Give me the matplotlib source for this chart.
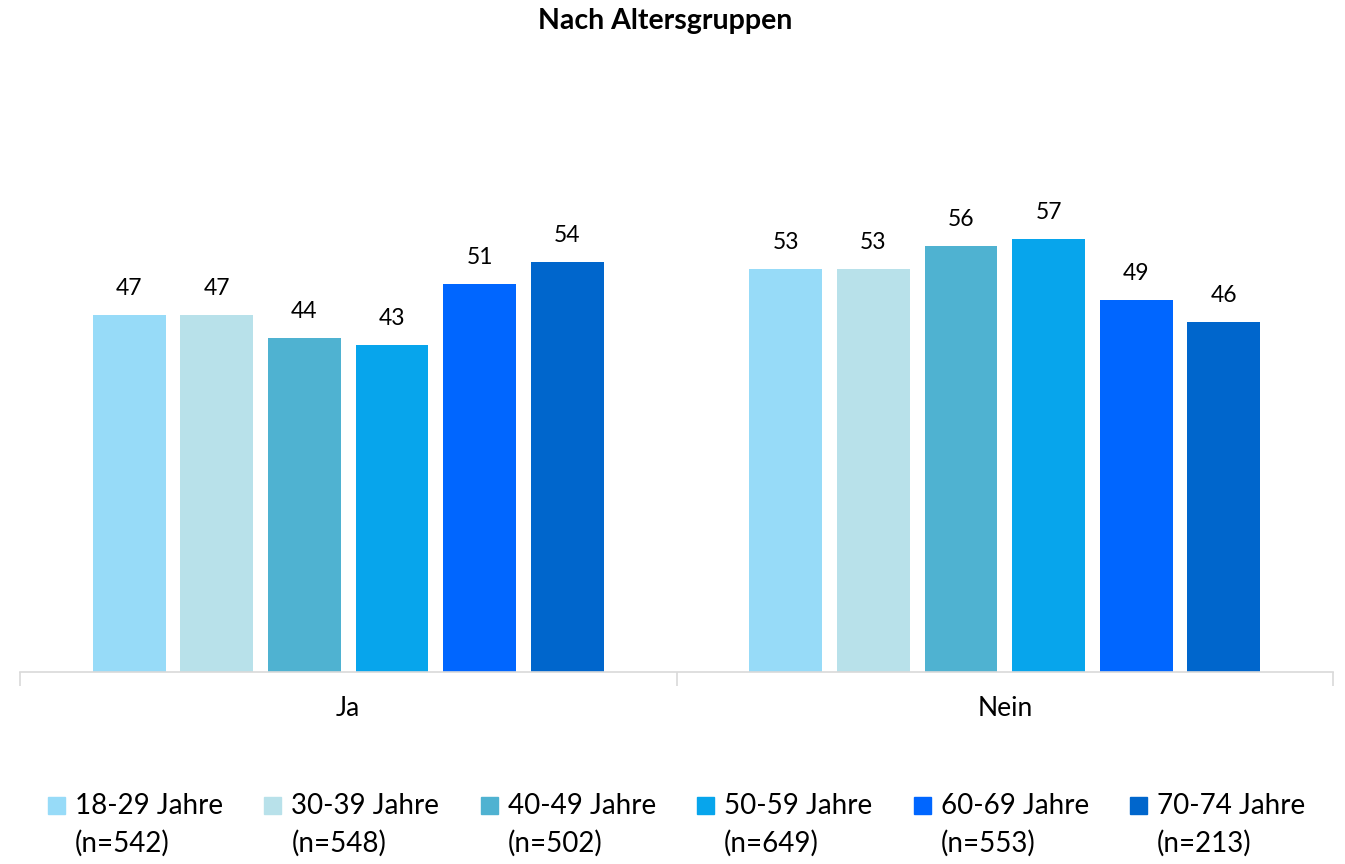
import matplotlib.pyplot as plt
from matplotlib.patches import Rectangle
import numpy as np

plt.rcParams['font.family'] = ['Lato', 'DejaVu Sans']

categories = ['Ja', 'Nein']
groups = ['18-29 Jahre\n(n=542)', '30-39 Jahre\n(n=548)', '40-49 Jahre\n(n=502)',
          '50-59 Jahre\n(n=649)', '60-69 Jahre\n(n=553)', '70-74 Jahre\n(n=213)']
ja_values = [47, 47, 44, 43, 51, 54]
nein_values = [53, 53, 56, 57, 49, 46]
colors = ['#97DBF8', '#B8E1EA', '#4FB2D1', '#07A5EC', '#0066FF', '#0066CC']

fig = plt.figure(figsize=(13.45, 8.64), dpi=100)
ax = fig.add_axes([20 / 1345, 1 - 672 / 864, 1313 / 1345, 456 / 864])

x = np.arange(len(categories))
step = 0.1334
width = 0.111
for i, g in enumerate(groups):
    vals = [ja_values[i], nein_values[i]]
    pos = x + (i - 2.5) * step
    bars = ax.bar(pos, vals, width=width, color=colors[i], zorder=2)
    for b, v in zip(bars, vals):
        ax.text(b.get_x() + b.get_width() / 2, v + 3.5, str(v), ha='center', va='center',
                fontsize=16.5, color='#000000', clip_on=False)

ax.set_xlim(-0.5, 1.5)
ax.set_ylim(0, 60)
for s in ['top', 'right', 'left']:
    ax.spines[s].set_visible(False)
ax.spines['bottom'].set_color('#d9d9d9')
ax.spines['bottom'].set_linewidth(1.2)
ax.set_yticks([])
ax.set_xticks([-0.5, 0.5, 1.5])
ax.set_xticklabels([])
ax.tick_params(axis='x', which='major', length=10, color='#d9d9d9', width=1.2)
ax.set_xticks(x, minor=True)
ax.set_xticklabels(categories, minor=True, fontsize=19)
ax.tick_params(axis='x', which='minor', length=0, pad=17)

fig.text(0.4944, 1 - 21 / 864, 'Nach Altersgruppen', ha='center', va='center',
         fontsize=20.5, fontweight='bold')

# legend
for i, g in enumerate(groups):
    x0 = 48 + i * 216.4
    fig.add_artist(Rectangle((x0 / 1345, 1 - 814 / 864), 17 / 1345, 17 / 864,
                             transform=fig.transFigure, color=colors[i]))
    fig.text((x0 + 27) / 1345, 1 - 806 / 864, g.split('\n')[0], ha='left', va='center', fontsize=20)
    fig.text((x0 + 27) / 1345, 1 - 843 / 864, g.split('\n')[1], ha='left', va='center', fontsize=20)

fig.savefig('out.png', dpi=100)
